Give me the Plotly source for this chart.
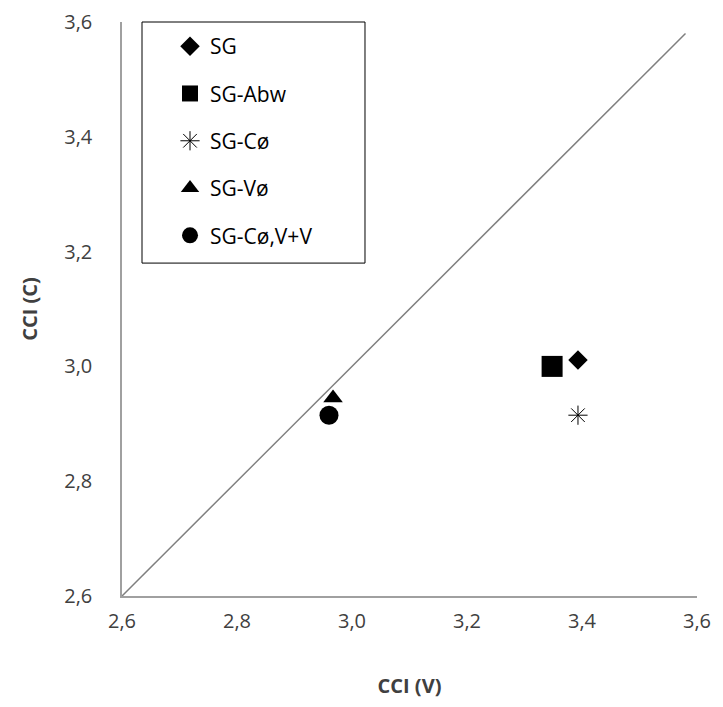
import plotly.graph_objects as go

series_names = ["SG", "SG-Abw", "SG-C\u00f8", "SG-V\u00f8", "SG-C\u00f8,V+V"]
cci_v = [3.393, 3.348, 3.393, 2.967, 2.96]
cci_c = [3.011, 3.000, 2.915, 2.945, 2.915]
symbols = ["diamond", "square", "asterisk-open", "triangle-up", "circle"]
sizes = [15, 21, 16, 17, 19]

diag_x = [2.6, 3.58]
diag_y = [2.6, 3.58]

x_ticks = [2.6, 2.8, 3.0, 3.2, 3.4, 3.6]
x_tick_labels = ["2,6", "2,8", "3,0", "3,2", "3,4", "3,6"]
y_ticks = [2.6, 2.8, 3.0, 3.2, 3.4, 3.6]
y_tick_labels = ["2,6", "2,8", "3,0", "3,2", "3,4", "3,6"]

FONT = "Open Sans"

fig = go.Figure()
fig.add_trace(go.Scatter(x=diag_x, y=diag_y, mode="lines",
                         line=dict(color="#7f7f7f", width=1.5),
                         showlegend=False, hoverinfo="skip"))
for i, name in enumerate(series_names):
    fig.add_trace(go.Scatter(
        x=[cci_v[i]], y=[cci_c[i]], mode="markers", name=name,
        legendgroup=name,
        marker=dict(symbol=symbols[i], size=sizes[i], color="black",
                    line=dict(color="black", width=1 if symbols[i] == "asterisk-open" else 0)),
    ))

# legend frame
fig.add_shape(type="rect", xref="paper", yref="paper",
              x0=0.0348, x1=0.4226, y0=0.580, y1=1.0,
              line=dict(color="black", width=1), fillcolor="white", layer="below")

fig.update_layout(
    width=707, height=691,
    margin=dict(l=114, r=18, t=14, b=103),
    paper_bgcolor="white", plot_bgcolor="white",
    font=dict(family=FONT, size=20, color="#404040"),
    showlegend=True,
    legend=dict(x=0.0835, y=0.993, xanchor="left", yanchor="top",
                borderwidth=0, bgcolor="rgba(0,0,0,0)",
                font=dict(family=FONT, size=21, color="black"),
                tracegroupgap=17, itemwidth=30),
    xaxis=dict(range=[2.6, 3.6], tickvals=x_ticks, ticktext=x_tick_labels,
               showgrid=False, zeroline=False, showline=True, automargin=False,
               linecolor="#a0a0a0", linewidth=1.5,
               ticks="outside", ticklen=6, tickcolor="rgba(0,0,0,0)",
               title=dict(text="<b>CCI (V)</b>", standoff=54,
                          font=dict(family=FONT, size=20, color="#404040"))),
    yaxis=dict(range=[2.6, 3.6], tickvals=y_ticks, ticktext=y_tick_labels,
               showgrid=False, zeroline=False, showline=True, automargin=False,
               linecolor="#a0a0a0", linewidth=1.5,
               ticks="outside", ticklen=24, tickcolor="rgba(0,0,0,0)",
               title=dict(text="<b>CCI (C)</b>", standoff=21,
                          font=dict(family=FONT, size=20, color="#404040"))),
)
fig.write_html("out.html")
